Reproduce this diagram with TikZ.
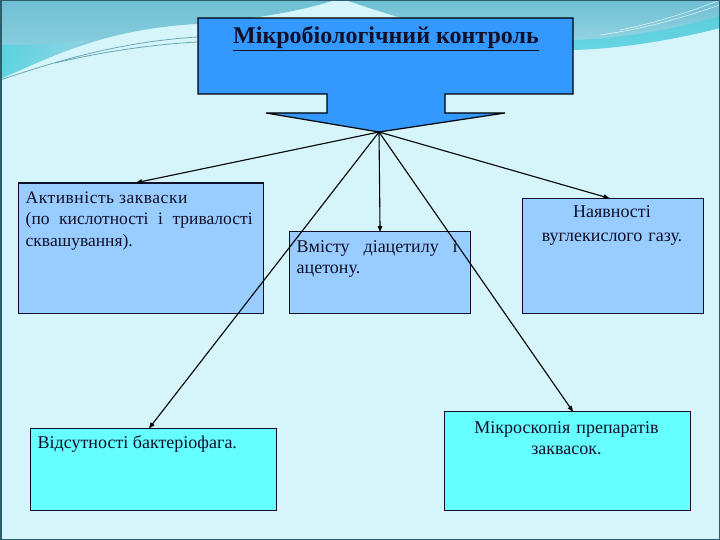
\documentclass[tikz,border=0pt]{standalone}
\usepackage{fontspec}
\setmainfont{Liberation Serif}
\usetikzlibrary{arrows.meta}
\definecolor{bg}{HTML}{D5F5FA}
\definecolor{bandtop}{HTML}{6FBFD2}
\definecolor{bandlow}{HTML}{9AD8E6}
\definecolor{bandcyan}{HTML}{45D3E0}
\definecolor{swline}{HTML}{6AA8B6}
\definecolor{frame}{HTML}{2E5E6E}
\definecolor{headblue}{HTML}{3399FF}
\definecolor{boxblue}{HTML}{99CCFF}
\definecolor{boxcyan}{HTML}{66FFFF}
\definecolor{ink}{HTML}{10102A}
\tikzset{
  box/.style={draw=ink, line width=1.1pt, anchor=north west, inner sep=0pt},
  txt/.style={text=ink, font=\fontsize{17.5}{21.5}\selectfont, inner sep=0pt},
  conn/.style={draw=black, line width=1.1pt, -{Triangle[length=6pt,width=4.5pt]}, shorten >=-1pt}
}
\begin{document}
\begin{tikzpicture}[x=1pt,y=-1pt]
\useasboundingbox (0,0) rectangle (720,540);
% background
\fill[bg] (0,0) rectangle (720,540);
% decorative bands
\shade[top color=bandtop, bottom color=bandlow]
  (0,0) -- (0,79) .. controls (50,58) and (100,30) .. (195,24)
  .. controls (270,18) and (310,8) .. (335,0) -- cycle;
\shade[left color=bandcyan, right color=bandlow, opacity=0.7]
  (0,45) -- (0,79) .. controls (30,66) and (60,52) .. (90,40) .. controls (50,45) and (20,45) .. (0,45) -- cycle;
\draw[swline, line width=0.8pt] (0,80) .. controls (60,60) and (120,42) .. (197,37);
\draw[swline, line width=0.8pt] (55,63) .. controls (110,50) and (160,44) .. (197,42);
\shade[top color=bandtop, bottom color=bandlow]
  (345,0) .. controls (420,25) and (500,50) .. (575,50)
  .. controls (630,48) and (680,38) .. (720,28) -- (720,0) -- cycle;
\fill[bandcyan, opacity=0.6]
  (573,40) .. controls (630,38) and (680,28) .. (720,16) -- (720,28)
  .. controls (680,38) and (630,48) .. (573,50) -- cycle;
\draw[white, opacity=0.7, line width=0.6pt] (600,35) .. controls (650,28) and (690,15) .. (720,5);
\draw[white, opacity=0.7, line width=0.6pt] (620,30) .. controls (660,22) and (695,10) .. (720,0);
% frame
\draw[frame, line width=1.5pt] (0.75,0.75) rectangle (719.25,539.25);
% head arrow shape
\filldraw[fill=headblue, draw=black, line width=1.2pt, line join=miter]
  (198,18) -- (573,18) -- (573,94) -- (445,94) -- (445,113) -- (505,113)
  -- (379,132) -- (266,113) -- (327,113) -- (327,94) -- (198,94) -- cycle;
\coordinate (tip) at (379,132);
\node[text=ink, inner sep=0pt, anchor=base, font=\bfseries\fontsize{24}{28}\selectfont]
  (head) at (386,43.3) {\underline{Мікробіологічний контроль}};
% boxes
\node[box, fill=boxblue, minimum width=245pt, minimum height=130.5pt] (b1) at (18,182.5) {};
\node[box, fill=boxblue, minimum width=181pt, minimum height=82pt] (b2) at (289,231) {};
\node[box, fill=boxblue, minimum width=181pt, minimum height=115pt] (b3) at (521.5,198) {};
\node[box, fill=boxcyan, minimum width=246pt, minimum height=82.5pt] (b4) at (30,427.7) {};
\node[box, fill=boxcyan, minimum width=246pt, minimum height=99pt] (b5) at (443.5,411) {};
% texts
\node[txt, anchor=base west, text width=227pt, align=justify,
      font=\fontsize{17.5}{21.5}\selectfont] (t1) at (25.5,203.3)
  {{\addfontfeature{LetterSpace=3}Активність закваски}\\(по кислотності і тривалості\linebreak сквашування).};
\node[txt, anchor=base west, text width=161pt, align=justify, font=\fontsize{18}{21}\selectfont] (t2) at (296.5,252.3)
  {Вмісту діацетилу і\linebreak ацетону.};
\node[txt, anchor=base, text width=181pt, align=center, font=\fontsize{18}{23.5}\selectfont] (t3) at (612,218)
  {Наявності\\вуглекислого газу.};
\node[txt, anchor=base west, font=\fontsize{18}{21}\selectfont] (t4) at (37.5,448.3) {Відсутності бактеріофага.};
\node[txt, anchor=base, text width=246pt, align=center, font=\fontsize{18}{21}\selectfont] (t5) at (566.5,433.3)
  {Мікроскопія препаратів\\заквасок.};
% connectors
\draw[conn] (tip) -- ([xshift=-4pt]b1.north);
\draw[conn] (tip) -- (b2.north);
\draw[conn] (tip) -- ([xshift=-4pt]b3.north);
\draw[conn] (tip) -- ([xshift=-4pt]b4.north);
\draw[conn] (tip) -- ([xshift=5.5pt]b5.north);
\end{tikzpicture}
\end{document}
